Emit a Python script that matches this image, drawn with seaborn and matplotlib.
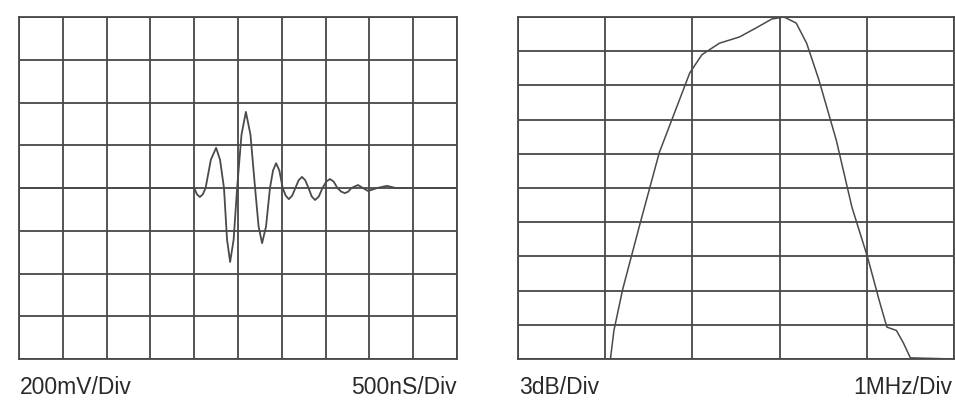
import numpy as np
import pandas as pd
import seaborn as sns
import matplotlib.pyplot as plt

# time-domain echo (500 ns/div, 200 mV/div)
time_ns = [0, 2000, 2032, 2065, 2098, 2130, 2190, 2250, 2295, 2340,
           2375, 2410, 2450, 2490, 2540, 2590, 2642, 2695, 2735, 2775,
           2820, 2865, 2900, 2935, 2972, 3010, 3045, 3080, 3118, 3155,
           3192, 3230, 3268, 3305, 3342, 3380, 3422, 3465, 3508, 3550,
           3592, 3635, 3678, 3720, 3758, 3795, 3870, 3925, 3985, 4090,
           4200, 4300, 5000]
amp_mV = [0, 0, -30, -42, -30, 0, 132, 188, 132, 0,
          -242, -346, -242, 0, 250, 356, 250, 0, -180, -258,
          -180, 0, 82, 116, 82, 0, -36, -52, -36, 0,
          36, 52, 36, 0, -40, -56, -40, 0, 30, 42,
          30, 0, -17, -24, -17, 0, 14, 0, -14, 0,
          10, 0, 0]

# frequency spectrum (1 MHz/div, 3 dB/div)
freq_MHz = [0, 1.06, 1.10, 1.20, 1.39, 1.62, 1.82, 1.97, 2.11, 2.31, 2.54,
            2.73, 2.91, 3.05, 3.19, 3.31, 3.45, 3.65, 3.83, 4.01, 4.14,
            4.23, 4.34, 4.42, 4.50, 5.0]
level_dB = [-30, -30, -27.5, -23.9, -18.4, -11.9, -7.9, -4.9, -3.3, -2.3, -1.75,
            -0.96, -0.18, 0, -0.53, -2.3, -5.5, -10.8, -16.7, -21.1, -24.8,
            -27.2, -27.5, -28.6, -29.9, -30]

sns.set_style("white")
plt.rcParams['font.family'] = ['Liberation Sans', 'DejaVu Sans']

grid_col = '#484848'
line_col = '#4a4a4a'

fig = plt.figure(figsize=(9.55, 4.0), dpi=100)
ax1 = fig.add_axes([19 / 955, 41 / 400, 438 / 955, 342 / 400])
ax2 = fig.add_axes([518 / 955, 41 / 400, 436 / 955, 342 / 400])

wave = pd.DataFrame({'t': time_ns, 'v': amp_mV})
spec = pd.DataFrame({'f': freq_MHz, 'db': level_dB})

sns.lineplot(data=wave, x='t', y='v', ax=ax1, color=line_col, lw=1.3)
sns.lineplot(data=spec, x='f', y='db', ax=ax2, color=line_col, lw=1.1)

ax1.set_xlim(0, 5000)
ax1.set_ylim(-800, 800)
ax1.set_xticks(np.arange(0, 5001, 500))
ax1.set_yticks(np.arange(-800, 801, 200))

ax2.set_xlim(0, 5)
ax2.set_ylim(-30, 0)
ax2.set_xticks(np.arange(0, 6, 1))
ax2.set_yticks(np.arange(-30, 1, 3))

for ax in (ax1, ax2):
    ax.grid(True, color=grid_col, lw=1.3)
    ax.set_axisbelow(True)
    ax.tick_params(length=0, labelbottom=False, labelleft=False)
    ax.set_xlabel('')
    ax.set_ylabel('')
    for s in ax.spines.values():
        s.set_color(grid_col)
        s.set_linewidth(1.3)

txt = dict(fontsize=16.5, color='#2a2a2a', va='center')
fig.text(20 / 955, 1 - 388 / 400, '200mV/Div', ha='left', **txt)
fig.text(457 / 955, 1 - 388 / 400, '500nS/Div', ha='right', **txt)
fig.text(519 / 955, 1 - 388 / 400, '3dB/Div', ha='left', **txt)
fig.text(952 / 955, 1 - 388 / 400, '1MHz/Div', ha='right', **txt)

fig.savefig('out.png', dpi=100)
